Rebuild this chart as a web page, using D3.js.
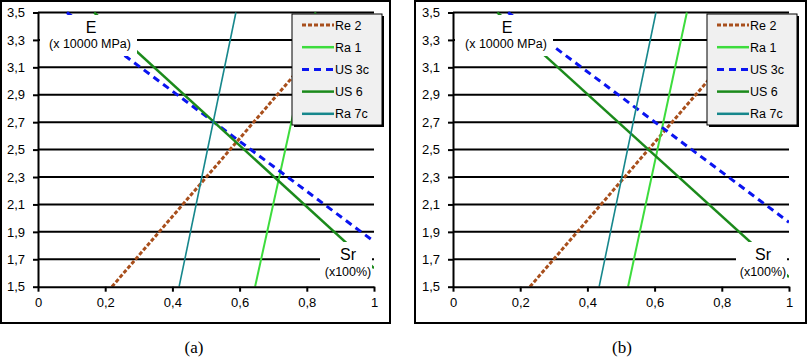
<!DOCTYPE html>
<html>
<head>
<meta charset="utf-8">
<script src="https://cdn.jsdelivr.net/npm/d3@7"></script>
<style>
  body { margin: 0; background: #fff; }
  svg { display: block; }
  .tick text { font-family: "Liberation Sans", Arial, sans-serif; font-size: 13px; fill: #000; }
</style>
</head>
<body>
<div id="chart"></div>
<script>
// tick values
const xTicks = [0, 0.2, 0.4, 0.6, 0.8, 1];
const yTicks = [1.5, 1.7, 1.9, 2.1, 2.3, 2.5, 2.7, 2.9, 3.1, 3.3, 3.5];

const seriesNames = ["Re 2", "Ra 1", "US 3c", "US 6", "Ra 7c"];

// panel (a) series, [Sr, E]
const re2A = [[0.22, 1.5], [0.8, 3.15]];
const ra1A = [[0.646, 1.5], [0.826, 3.5]];
const us3cA = [[0.086, 3.5], [1.0, 1.83]];
const us6A = [[0.167, 3.5], [1.0, 1.635]];
const ra7cA = [[0.42, 1.5], [0.589, 3.5]];

// panel (b) series
const re2B = [[0.229, 1.5], [0.8, 3.12]];
const ra1B = [[0.521, 1.5], [0.696, 3.5]];
const us3cB = [[0.164, 3.5], [1.0, 1.97]];
const us6B = [[0.132, 3.5], [1.0, 1.57]];
const ra7cB = [[0.435, 1.5], [0.604, 3.5]];

const styles = {
    "Re 2": { color: "#a84f1c", width: 3, dash: "4,2" },
    "Ra 1": { color: "#3ddc3d", width: 2, dash: null },
    "US 3c": { color: "#0a14f0", width: 3, dash: "7,5" },
    "US 6": { color: "#1b8a1b", width: 2.5, dash: null },
    "Ra 7c": { color: "#16878c", width: 1.6, dash: null }
};

const svg = d3.select("#chart").append("svg")
    .attr("width", 808)
    .attr("height", 364);

const locale = d3.formatLocale({ decimal: ",", thousands: ".", grouping: [3], currency: ["", ""] });
const fmtX = locale.format("~g");
const fmtY = locale.format(".1f");

function drawPanel(cfg) {
    const x = d3.scaleLinear().domain([0, 1]).range([cfg.left, cfg.left + 336]);
    const y = d3.scaleLinear().domain([1.5, 3.5]).range([286.7, 12.5]);

    // outer frame
    svg.append("rect")
        .attr("x", cfg.frameX).attr("y", 1)
        .attr("width", cfg.frameW).attr("height", 322)
        .attr("fill", "#fff").attr("stroke", "#000").attr("stroke-width", 2);

    // gridlines
    svg.append("g").selectAll("line")
        .data(yTicks.slice(1))
        .join("line")
        .attr("x1", x(0)).attr("x2", x(1))
        .attr("y1", d => y(d)).attr("y2", d => y(d))
        .attr("stroke", "#000").attr("stroke-width", 2);

    // series
    const clipId = "clip-" + cfg.id;
    svg.append("clipPath").attr("id", clipId)
        .append("rect")
        .attr("x", x(0)).attr("y", y(3.5) - 2)
        .attr("width", 336).attr("height", y(1.5) - y(3.5) + 2);

    const line = d3.line().x(d => x(d[0])).y(d => y(d[1]));

    svg.append("g").attr("clip-path", `url(#${clipId})`)
        .selectAll("path")
        .data(cfg.series)
        .join("path")
        .attr("d", d => line(d.values))
        .attr("fill", "none")
        .attr("stroke", d => styles[d.name].color)
        .attr("stroke-width", d => styles[d.name].width)
        .attr("stroke-dasharray", d => styles[d.name].dash);

    // axis title boxes (cover the lines like in the original)
    svg.append("rect")
        .attr("x", cfg.eBox[0]).attr("y", 15)
        .attr("width", cfg.eBox[1]).attr("height", 41)
        .attr("fill", "#fff");
    svg.append("text")
        .attr("x", cfg.eX).attr("y", 33)
        .attr("text-anchor", "middle")
        .style("font-family", "Liberation Sans, Arial, sans-serif")
        .style("font-size", "16px")
        .text("E");
    svg.append("text")
        .attr("x", cfg.eX - 1).attr("y", 48)
        .attr("text-anchor", "middle")
        .style("font-family", "Liberation Sans, Arial, sans-serif")
        .style("font-size", "12.5px")
        .text("(x 10000 MPa)");

    svg.append("rect")
        .attr("x", cfg.srBox[0]).attr("y", 242)
        .attr("width", cfg.srBox[1]).attr("height", 41)
        .attr("fill", "#fff");
    svg.append("text")
        .attr("x", cfg.srX).attr("y", 260)
        .attr("text-anchor", "middle")
        .style("font-family", "Liberation Sans, Arial, sans-serif")
        .style("font-size", "16px")
        .text("Sr");
    svg.append("text")
        .attr("x", cfg.srX).attr("y", 276)
        .attr("text-anchor", "middle")
        .style("font-family", "Liberation Sans, Arial, sans-serif")
        .style("font-size", "12.5px")
        .text("(x100%)");

    // axes
    const xAxis = d3.axisBottom(x).tickValues(xTicks).tickFormat(fmtX)
        .tickSize(5).tickSizeOuter(0).tickPadding(6);
    const yAxis = d3.axisLeft(y).tickValues(yTicks).tickFormat(fmtY)
        .tickSize(5).tickSizeOuter(0).tickPadding(8);

    const gx = svg.append("g")
        .attr("transform", `translate(0, ${y(1.5)})`)
        .call(xAxis);
    const gy = svg.append("g")
        .attr("transform", `translate(${x(0)}, 0)`)
        .call(yAxis);
    [gx, gy].forEach(g => {
        g.selectAll("path, line").attr("stroke", "#000").attr("stroke-width", 2);
        g.selectAll("text").style("font-family", "Liberation Sans, Arial, sans-serif").style("font-size", "13px");
    });

    // legend
    const lg = svg.append("g").attr("transform", `translate(${cfg.legendX}, 14)`);
    lg.append("rect")
        .attr("x", 2).attr("y", 2).attr("width", 90).attr("height", 111)
        .attr("fill", "#000");
    lg.append("rect")
        .attr("width", 90).attr("height", 111)
        .attr("fill", "#f0f0f0").attr("stroke", "#000").attr("stroke-width", 1);

    const item = lg.selectAll(".legend-item")
        .data(seriesNames)
        .join("g")
        .attr("class", "legend-item")
        .attr("transform", (d, i) => `translate(0, ${11 + i * 22.2})`);
    item.append("line")
        .attr("x1", 10).attr("x2", 42)
        .attr("stroke", d => styles[d].color)
        .attr("stroke-width", d => Math.max(styles[d].width, 2.5))
        .attr("stroke-dasharray", d => styles[d].dash);
    item.append("text")
        .attr("x", 43).attr("y", 4.5)
        .style("font-family", "Liberation Sans, Arial, sans-serif")
        .style("font-size", "12.5px")
        .text(d => d);

    // caption
    svg.append("text")
        .attr("x", cfg.capX).attr("y", 353)
        .attr("text-anchor", "middle")
        .style("font-family", "Liberation Serif, Times New Roman, serif")
        .style("font-size", "17px")
        .text(cfg.caption);
}

drawPanel({
    id: "a", left: 38, frameX: 1, frameW: 389,
    series: [
        { name: "Re 2", values: re2A },
        { name: "Ra 1", values: ra1A },
        { name: "US 3c", values: us3cA },
        { name: "US 6", values: us6A },
        { name: "Ra 7c", values: ra7cA }
    ],
    eBox: [40, 97], eX: 91,
    srBox: [320, 52], srX: 348,
    legendX: 292, capX: 194, caption: "(a)"
});

drawPanel({
    id: "b", left: 453, frameX: 415, frameW: 391,
    series: [
        { name: "Re 2", values: re2B },
        { name: "Ra 1", values: ra1B },
        { name: "US 3c", values: us3cB },
        { name: "US 6", values: us6B },
        { name: "Ra 7c", values: ra7cB }
    ],
    eBox: [455, 98], eX: 507,
    srBox: [736, 51], srX: 763,
    legendX: 707, capX: 622, caption: "(b)"
});
</script>
</body>
</html>
